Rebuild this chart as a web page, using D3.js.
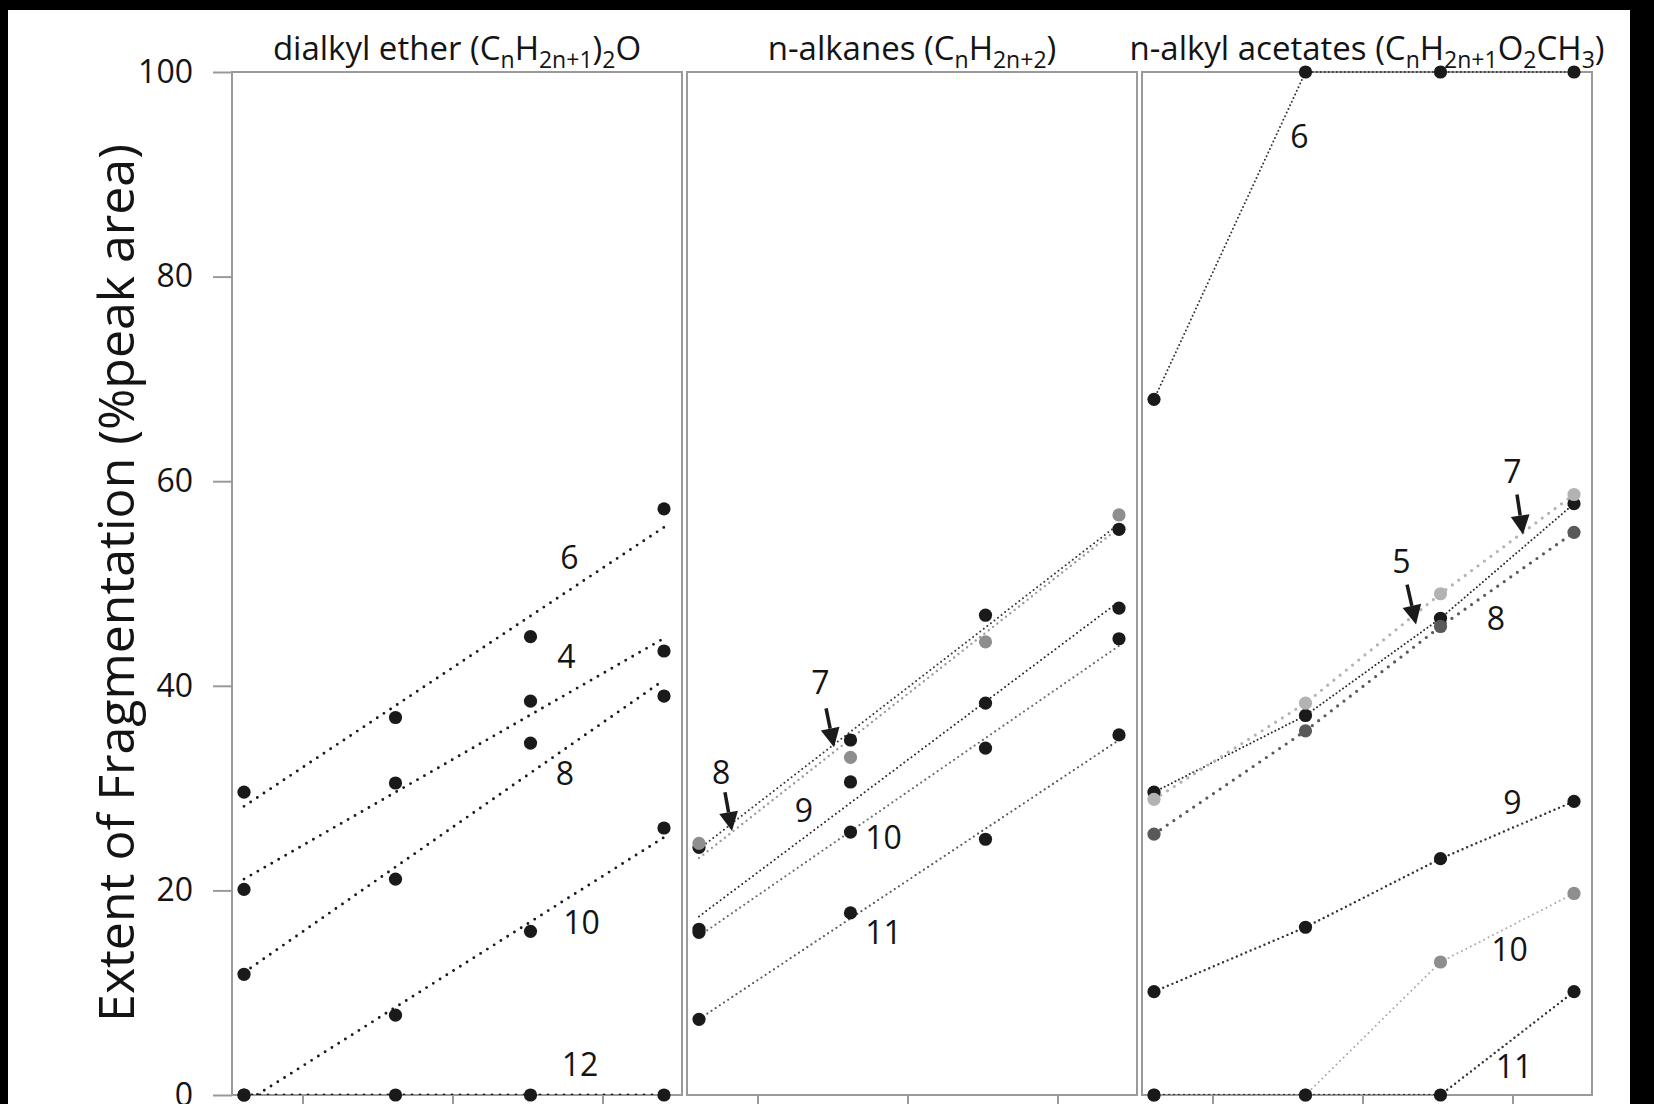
<!DOCTYPE html>
<html>
<head>
<meta charset="utf-8">
<script src="https://cdn.jsdelivr.net/npm/d3@7"></script>
<style>
  body { margin: 0; background: #000; }
  svg { display: block; }
  text { font-family: "Open Sans", sans-serif; fill: #141414; }
</style>
</head>
<body>
<div id="chart"></div>
<script>
// x positions of the four measurements, and the (unlabelled) x ticks
var xValues = [0.61, 1.62, 2.52, 3.41];
var xTicks = [1, 2, 3];
var yTicks = [0, 20, 40, 60, 80, 100];

// dialkyl ethers
var etherNames = ["6", "4", "8", "10", "12"];
var etherValues = [
  [29.6, 36.9, 44.8, 57.3],
  [20.1, 30.5, 38.5, 43.4],
  [11.8, 21.1, 34.4, 39.0],
  [0, 7.8, 16.0, 26.1],
  [0, 0, 0, 0]
];

// n-alkanes
var alkaneNames = ["7", "8", "9", "10", "11"];
var alkaneValues = [
  [24.2, 34.7, 46.9, 55.3],
  [24.6, 33.0, 44.3, 56.7],
  [16.2, 30.6, 38.3, 47.6],
  [15.9, 25.7, 33.9, 44.6],
  [7.4, 17.8, 25.0, 35.2]
];

// n-alkyl acetates
var acetateNames = ["6", "5", "7", "8", "9", "10", "11"];
var acetateValues = [
  [68.0, 100, 100, 100],
  [29.6, 37.1, 46.6, 57.8],
  [28.9, 38.3, 49.0, 58.7],
  [25.5, 35.6, 45.8, 55.0],
  [10.1, 16.4, 23.1, 28.7],
  [0, 0, 13.0, 19.7],
  [0, 0, 0, 10.1]
];

// panel titles: [text, subscript?]
var etherTitle = [["dialkyl ether (C", 0], ["n", 1], ["H", 0], ["2n+1", 1], [")", 0], ["2", 1], ["O", 0]];
var alkaneTitle = [["n-alkanes (C", 0], ["n", 1], ["H", 0], ["2n+2", 1], [")", 0]];
var acetateTitle = [["n-alkyl acetates (C", 0], ["n", 1], ["H", 0], ["2n+1", 1], ["O", 0], ["2", 1], ["CH", 0], ["3", 1], [")", 0]];

// line / dot styles
var BLACK = "#1a1a1a";
var heavy = {dot: BLACK, line: BLACK, width: 2.9, dash: "0 8"};
var etherStyles = [heavy, heavy, heavy, heavy, heavy];
var alkaneStyles = [
  {dot: BLACK, line: "#333", width: 2, dash: "0 4.5"},
  {dot: "#8e8e8e", line: "#9a9a9a", width: 2.4, dash: "0 5.5"},
  {dot: BLACK, line: "#222", width: 2, dash: "0 4.5"},
  {dot: BLACK, line: "#6a6a6a", width: 2.2, dash: "0 5"},
  {dot: BLACK, line: "#555", width: 2.2, dash: "0 5"}
];
var acetateStyles = [
  {dot: BLACK, line: "#333", width: 2, dash: "0 4"},
  {dot: BLACK, line: "#222", width: 2, dash: "0 4"},
  {dot: "#b3b3b3", line: "#b3b3b3", width: 3.2, dash: "0 8"},
  {dot: "#595959", line: "#595959", width: 3.2, dash: "0 8"},
  {dot: BLACK, line: "#333", width: 2.4, dash: "0 5"},
  {dot: "#8e8e8e", line: "#a8a8a8", width: 2, dash: "0 5"},
  {dot: BLACK, line: "#333", width: 2.4, dash: "0 5"}
];

// series labels and arrows, in data units
var etherLabels = [
  {t: "6", x: 2.78, y: 52.6}, {t: "4", x: 2.76, y: 43.0}, {t: "8", x: 2.75, y: 31.5},
  {t: "10", x: 2.86, y: 17.0}, {t: "12", x: 2.85, y: 3.1}
];
var alkaneLabels = [
  {t: "8", x: 0.757, y: 31.6}, {t: "7", x: 1.42, y: 40.4}, {t: "9", x: 1.31, y: 27.9},
  {t: "10", x: 1.84, y: 25.3}, {t: "11", x: 1.84, y: 16.0}
];
var acetateLabels = [
  {t: "6", x: 1.58, y: 93.8}, {t: "5", x: 2.26, y: 52.2}, {t: "7", x: 3.0, y: 61.0},
  {t: "8", x: 2.89, y: 46.7}, {t: "9", x: 3.0, y: 28.7}, {t: "10", x: 2.98, y: 14.3},
  {t: "11", x: 3.01, y: 2.9}
];
var alkaneArrows = [
  {x1: 0.783, y1: 29.6, x2: 0.83, y2: 25.8},
  {x1: 1.457, y1: 37.8, x2: 1.51, y2: 34.0}
];
var acetateArrows = [
  {x1: 2.297, y1: 49.9, x2: 2.357, y2: 46.0},
  {x1: 3.03, y1: 58.7, x2: 3.07, y2: 54.8}
];

var panels = [
  {title: etherTitle, names: etherNames, values: etherValues, styles: etherStyles, fit: true, labels: etherLabels, arrows: []},
  {title: alkaneTitle, names: alkaneNames, values: alkaneValues, styles: alkaneStyles, fit: true, labels: alkaneLabels, arrows: alkaneArrows},
  {title: acetateTitle, names: acetateNames, values: acetateValues, styles: acetateStyles, fit: false, labels: acetateLabels, arrows: acetateArrows}
];

var width = 1654, height = 1104;
var panelLeft = 232, panelW = 450, gap = 5;
var frameColor = "#9a9a9a";
var titleSize = 33, subSize = 23;

var svg = d3.select("#chart").append("svg")
  .attr("width", width)
  .attr("height", height);

svg.append("rect").attr("width", width).attr("height", height).attr("fill", "#000");
svg.append("rect").attr("x", 8).attr("y", 10).attr("width", 1622).attr("height", height - 10).attr("fill", "#fff");

var y = d3.scaleLinear().domain([0, 100]).range([1095, 72]);

// y axis title
svg.append("text")
  .attr("transform", "translate(134," + 583 + ") rotate(-90)")
  .attr("text-anchor", "middle")
  .style("font-size", "50px")
  .text("Extent of Fragmentation (%peak area)");

function fitLine(xs, ys) {
  var mx = d3.mean(xs), my = d3.mean(ys);
  var sxy = d3.sum(xs, function(d, i) { return (d - mx) * (ys[i] - my); });
  var sxx = d3.sum(xs, function(d) { return (d - mx) * (d - mx); });
  var b = sxx ? sxy / sxx : 0;
  var first = xs[0], last = xs[xs.length - 1];
  return [[first, my + b * (first - mx)], [last, my + b * (last - mx)]];
}

function drawArrow(g, x, a) {
  var x1 = x(a.x1), y1 = y(a.y1), x2 = x(a.x2), y2 = y(a.y2);
  var ang = Math.atan2(y2 - y1, x2 - x1);
  var headL = 19, headW = 9.5;
  var bx = x2 - headL * Math.cos(ang), by = y2 - headL * Math.sin(ang);
  g.append("line")
    .attr("x1", x1).attr("y1", y1).attr("x2", bx).attr("y2", by)
    .attr("stroke", BLACK).attr("stroke-width", 3.5);
  g.append("path")
    .attr("d", "M" + x2 + "," + y2 +
      "L" + (bx + headW * Math.sin(ang)) + "," + (by - headW * Math.cos(ang)) +
      "L" + (bx - headW * Math.sin(ang)) + "," + (by + headW * Math.cos(ang)) + "Z")
    .attr("fill", BLACK);
}

function drawPanel(p, i) {
  var left = panelLeft + i * (panelW + gap);
  var x = d3.scaleLinear().domain([0.53, 3.53]).range([left, left + panelW]);
  var g = svg.append("g").attr("class", "panel");

  svg.append("clipPath").attr("id", "clip" + i)
    .append("rect")
    .attr("x", left).attr("y", y(100) - 8)
    .attr("width", panelW).attr("height", y(0) - y(100) + 8);

  // x ticks (labels fall below the picture)
  var xa = g.append("g")
    .attr("transform", "translate(0," + y(0) + ")")
    .call(d3.axisBottom(x).tickValues(xTicks).tickSize(14).tickFormat(""));
  xa.select(".domain").remove();
  xa.selectAll("line").attr("stroke", frameColor).attr("stroke-width", 2);

  if (i === 0) {
    var ya = g.append("g")
      .attr("transform", "translate(" + left + ",0)")
      .call(d3.axisLeft(y).tickValues(yTicks).tickSize(19).tickPadding(20));
    ya.select(".domain").remove();
    ya.selectAll("line").attr("stroke", frameColor).attr("stroke-width", 2);
    ya.selectAll("text").style("font-size", "32px").attr("fill", "#141414")
      .style("font-family", "'Open Sans', sans-serif");
  }

  g.append("rect")
    .attr("x", left).attr("y", y(100))
    .attr("width", panelW).attr("height", y(0) - y(100))
    .attr("fill", "none").attr("stroke", frameColor).attr("stroke-width", 2);

  // title
  var title = g.append("text")
    .attr("x", left + panelW / 2).attr("y", 60)
    .attr("text-anchor", "middle")
    .style("font-size", titleSize + "px");
  var shift = 0;
  p.title.forEach(function(part) {
    var want = part[1] ? 8 : 0;
    title.append("tspan")
      .attr("dy", want - shift)
      .style("font-size", (part[1] ? subSize : titleSize) + "px")
      .text(part[0]);
    shift = want;
  });

  var line = d3.line()
    .x(function(d) { return x(d[0]); })
    .y(function(d) { return y(d[1]); });

  var lines = g.append("g").attr("clip-path", "url(#clip" + i + ")");
  p.values.forEach(function(vals, k) {
    var st = p.styles[k];
    var pts = p.fit ? fitLine(xValues, vals) : xValues.map(function(xv, j) { return [xv, vals[j]]; });
    lines.append("path")
      .attr("d", line(pts))
      .attr("fill", "none")
      .attr("stroke", st.line)
      .attr("stroke-width", st.width)
      .attr("stroke-linecap", "round")
      .attr("stroke-dasharray", st.dash);
  });

  p.values.forEach(function(vals, k) {
    var st = p.styles[k];
    g.append("g").selectAll("circle")
      .data(vals)
      .enter()
      .append("circle")
      .attr("r", 6.6)
      .attr("cx", function(d, j) { return x(xValues[j]); })
      .attr("cy", function(d) { return y(d); })
      .attr("fill", st.dot);
  });

  g.selectAll(".lbl")
    .data(p.labels)
    .enter()
    .append("text")
    .attr("class", "lbl")
    .attr("x", function(d) { return x(d.x); })
    .attr("y", function(d) { return y(d.y); })
    .attr("text-anchor", "middle")
    .attr("dominant-baseline", "central")
    .style("font-size", "32px")
    .text(function(d) { return d.t; });

  p.arrows.forEach(function(a) { drawArrow(g, x, a); });
}

panels.forEach(drawPanel);
</script>
</body>
</html>
